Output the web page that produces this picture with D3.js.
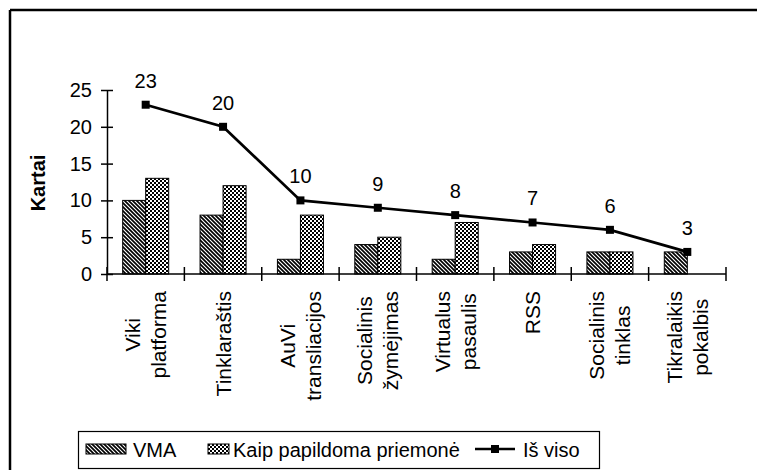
<!DOCTYPE html>
<html>
<head>
<meta charset="utf-8">
<script src="https://cdn.jsdelivr.net/npm/d3@7"></script>
<style>
  html, body { margin: 0; padding: 0; background: #fff; }
  svg { display: block; font-family: Arial, "Liberation Sans", sans-serif; }
</style>
</head>
<body>
<svg id="chart" width="757" height="470"></svg>
<script>
// Usage counts per tool type
const categories = [
  ["Viki", "platforma"],
  ["Tinklaraštis"],
  ["AuVi", "transliacijos"],
  ["Socialinis", "žymėjimas"],
  ["Virtualus", "pasaulis"],
  ["RSS"],
  ["Socialinis", "tinklas"],
  ["Tikralaikis", "pokalbis"]
];
const vma = [10, 8, 2, 4, 2, 3, 3, 3];
const papildoma = [13, 12, 8, 5, 7, 4, 3, 0];
const isViso = [23, 20, 10, 9, 8, 7, 6, 3];
const yTicks = [0, 5, 10, 15, 20, 25];
const seriesNames = ["VMA", "Kaip papildoma priemonė", "Iš viso"];
const yTitle = "Kartai";

const svg = d3.select("#chart");
const FONT = 20;
const CAT_FONT = 21;

// Fill patterns for the two bar series
const defs = svg.append("defs");
const hatch = defs.append("pattern")
  .attr("id", "hatch").attr("patternUnits", "userSpaceOnUse")
  .attr("width", 4).attr("height", 4);
hatch.append("rect").attr("width", 4).attr("height", 4).attr("fill", "#fff");
hatch.append("path").attr("d", "M-1,-1 L5,5 M-1,3 L1,5 M3,-1 L5,1")
  .attr("stroke", "#000").attr("stroke-width", 1.7);

const checker = defs.append("pattern")
  .attr("id", "checker").attr("patternUnits", "userSpaceOnUse")
  .attr("width", 4).attr("height", 4);
checker.append("rect").attr("width", 4).attr("height", 4).attr("fill", "#fff");
checker.append("rect").attr("width", 2).attr("height", 2).attr("fill", "#000");
checker.append("rect").attr("x", 2).attr("y", 2).attr("width", 2).attr("height", 2).attr("fill", "#000");

// Outer frame
svg.append("line").attr("x1", 10).attr("y1", 10).attr("x2", 757).attr("y2", 10)
  .attr("stroke", "#000").attr("stroke-width", 2.5);
svg.append("line").attr("x1", 10).attr("y1", 10).attr("x2", 10).attr("y2", 470)
  .attr("stroke", "#000").attr("stroke-width", 2.5);

// Scales
const x = d3.scaleBand().domain(d3.range(categories.length))
  .range([107, 726]).paddingInner(0.405).paddingOuter(0.2025);
const sub = d3.scaleBand().domain([0, 1]).range([0, x.bandwidth()]);
const y = d3.scaleLinear().domain([0, 25]).range([274, 90]);

// Bars (zero values draw nothing)
[[vma, "url(#hatch)"], [papildoma, "url(#checker)"]].forEach(([vals, fill], si) => {
  svg.append("g").selectAll("rect")
    .data(vals.map((v, i) => ({ v, i })).filter(d => d.v > 0))
    .join("rect")
    .attr("x", d => x(d.i) + sub(si))
    .attr("y", d => y(d.v))
    .attr("width", sub.bandwidth())
    .attr("height", d => y(0) - y(d.v))
    .attr("fill", fill)
    .attr("stroke", "#000").attr("stroke-width", 1);
});

// Y axis
const yAxis = d3.axisLeft(y).tickValues(yTicks).tickSize(0).tickPadding(15);
const yg = svg.append("g").attr("transform", "translate(107,0)").call(yAxis);
yg.select(".domain").attr("stroke", "#000").attr("stroke-width", 1.5);
yg.selectAll(".tick text").attr("font-size", FONT).attr("fill", "#000")
  .attr("font-family", "Arial, 'Liberation Sans', sans-serif");
yg.selectAll(".tick").append("line").attr("x1", -6).attr("x2", 6)
  .attr("stroke", "#000").attr("stroke-width", 1.5);

// X axis line and cross ticks at band boundaries
svg.append("line").attr("x1", 107).attr("x2", 726).attr("y1", y(0)).attr("y2", y(0))
  .attr("stroke", "#000").attr("stroke-width", 1.5);
const bounds = d3.range(categories.length + 1).map(i => 107 + i * x.step());
svg.append("g").selectAll("line").data(bounds).join("line")
  .attr("x1", d => d).attr("x2", d => d)
  .attr("y1", y(0) - 7).attr("y2", y(0) + 7)
  .attr("stroke", "#000").attr("stroke-width", 1.5);

// Category labels, rotated, block top-aligned below the axis, lines centred
const labTop = 291;
const lineGap = 26;
categories.forEach((lines, i) => {
  const cx = x(i) + x.bandwidth() / 2;
  const grp = svg.append("g");
  const texts = lines.map(t => grp.append("text").text(t)
    .attr("font-size", CAT_FONT).attr("fill", "#000").attr("text-anchor", "middle"));
  const W = d3.max(texts, t => t.node().getComputedTextLength());
  grp.attr("transform", `translate(${cx},${labTop + W / 2}) rotate(-90)`);
  const n = lines.length;
  texts.forEach((t, k) => {
    const off = (k - (n - 1) / 2) * lineGap;
    t.attr("x", 0).attr("y", off + 7.5);
  });
});

// Y axis title
svg.append("text").text(yTitle)
  .attr("transform", `translate(45,183) rotate(-90)`)
  .attr("text-anchor", "middle").attr("font-size", FONT).attr("font-weight", "bold");

// Total line with square markers and value labels
const cxOf = i => x(i) + x.bandwidth() / 2;
svg.append("path").datum(isViso)
  .attr("d", d3.line().x((d, i) => cxOf(i)).y(d => y(d)))
  .attr("fill", "none").attr("stroke", "#000").attr("stroke-width", 2.7);
svg.append("g").selectAll("rect").data(isViso).join("rect")
  .attr("x", (d, i) => cxOf(i) - 4).attr("y", d => y(d) - 4)
  .attr("width", 8).attr("height", 8).attr("fill", "#000");
svg.append("g").selectAll("text").data(isViso).join("text")
  .attr("x", (d, i) => cxOf(i)).attr("y", d => y(d) - 17)
  .attr("text-anchor", "middle").attr("font-size", FONT).text(d => d);

// Legend
const lg = svg.append("g");
lg.append("rect").attr("x", 78.5).attr("y", 431.5).attr("width", 521).attr("height", 37)
  .attr("fill", "#fff").attr("stroke", "#000").attr("stroke-width", 1.2);
lg.append("rect").attr("x", 86).attr("y", 444).attr("width", 40).attr("height", 10)
  .attr("fill", "url(#hatch)").attr("stroke", "#000").attr("stroke-width", 1);
lg.append("text").attr("x", 133).attr("y", 457).attr("font-size", FONT).text(seriesNames[0]);
lg.append("rect").attr("x", 208).attr("y", 444).attr("width", 21).attr("height", 10)
  .attr("fill", "url(#checker)").attr("stroke", "#000").attr("stroke-width", 1);
lg.append("text").attr("x", 233).attr("y", 457).attr("font-size", FONT).text(seriesNames[1]);
lg.append("line").attr("x1", 475).attr("x2", 515).attr("y1", 449).attr("y2", 449)
  .attr("stroke", "#000").attr("stroke-width", 2.5);
lg.append("rect").attr("x", 491).attr("y", 445).attr("width", 8).attr("height", 8).attr("fill", "#000");
lg.append("text").attr("x", 523).attr("y", 457).attr("font-size", FONT).text(seriesNames[2]);
</script>
</body>
</html>
